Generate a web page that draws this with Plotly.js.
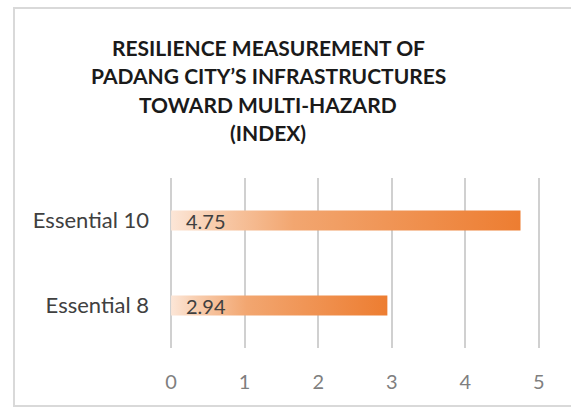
<!DOCTYPE html>
<html>
<head>
<meta charset="utf-8">
<script src="https://cdn.plot.ly/plotly-3.0.1.min.js"></script>
<style>
  body { margin: 0; background: #fff; }
  #wrap { position: relative; width: 571px; height: 408px; overflow: hidden; }
  #chart { width: 571px; height: 408px; }
  #frame { position: absolute; left: 13px; top: 7px; width: 620px; height: 396px;
           border: 2px solid #d9d9d9; pointer-events: none; }
</style>
</head>
<body>
<div id="wrap">
  <div id="chart"></div>
  <div id="frame"></div>
</div>
<script>
// Chart data (bottom to top)
const categories = ['Essential 8', 'Essential 10'];
const values = [2.94, 4.75];
const xTicks = [0, 1, 2, 3, 4, 5];
const titleLines = [
    'RESILIENCE MEASUREMENT OF',
    'PADANG CITY\u2019S INFRASTRUCTURES',
    'TOWARD MULTI-HAZARD',
    '(INDEX)'
];

const barHalf = 0.118;
const gradient = [[0, '#fce6d7'], [0.12, '#f8cdae'], [0.35, '#f2a670'], [1, '#ed7d31']];

// One filled shape per bar so each gets its own gradient
const traces = values.map((v, i) => ({
    type: 'scatter',
    mode: 'lines',
    x: [0, v, v, 0, 0],
    y: [i - barHalf, i - barHalf, i + barHalf, i + barHalf, i - barHalf],
    fill: 'toself',
    fillgradient: { type: 'horizontal', colorscale: gradient },
    line: { width: 0 },
    hoverinfo: 'skip',
    showlegend: false
}));

const valueLabels = values.map((v, i) => ({
    x: 0, y: i, xref: 'x', yref: 'y',
    text: v.toFixed(2),
    showarrow: false,
    xanchor: 'left',
    xshift: 13,
    font: { family: 'Lato, sans-serif', size: 20, color: '#404040' }
}));

const layout = {
    width: 571,
    height: 408,
    margin: { l: 170, r: 31, t: 178, b: 60 },
    paper_bgcolor: '#fff',
    plot_bgcolor: '#fff',
    xaxis: {
        range: [-0.015, 5.015],
        tickvals: xTicks,
        showgrid: true,
        gridcolor: '#d0d0d0',
        gridwidth: 2,
        zeroline: false,
        showline: false,
        ticks: '',
        ticklabelstandoff: 20,
        tickfont: { family: 'Lato, sans-serif', size: 20, color: '#7f7f7f' },
        fixedrange: true
    },
    yaxis: {
        range: [-0.5, 1.5],
        tickvals: categories.map((c, i) => i),
        ticktext: categories,
        showgrid: false,
        zeroline: false,
        ticks: '',
        ticklabelstandoff: 20,
        tickfont: { family: 'Lato, sans-serif', size: 22, color: '#404040' },
        fixedrange: true
    },
    annotations: valueLabels
};

// Title lines placed in pixels relative to the plot area
const plotW = 571 - 170 - 31;
const plotH = 408 - 178 - 60;
const titleTop = [47, 76, 104, 132];
titleLines.forEach((t, i) => {
    layout.annotations.push({
        x: (268 - 170) / plotW, xref: 'paper',
        y: (408 - 60 - titleTop[i]) / plotH, yref: 'paper',
        text: '<b>' + t + '</b>',
        showarrow: false,
        xanchor: 'center',
        yanchor: 'middle',
        font: { family: 'Lato, sans-serif', size: 21, color: '#1a1a1a' }
    });
});

Plotly.newPlot('chart', traces, layout, { displayModeBar: false, staticPlot: true });
</script>
</body>
</html>
